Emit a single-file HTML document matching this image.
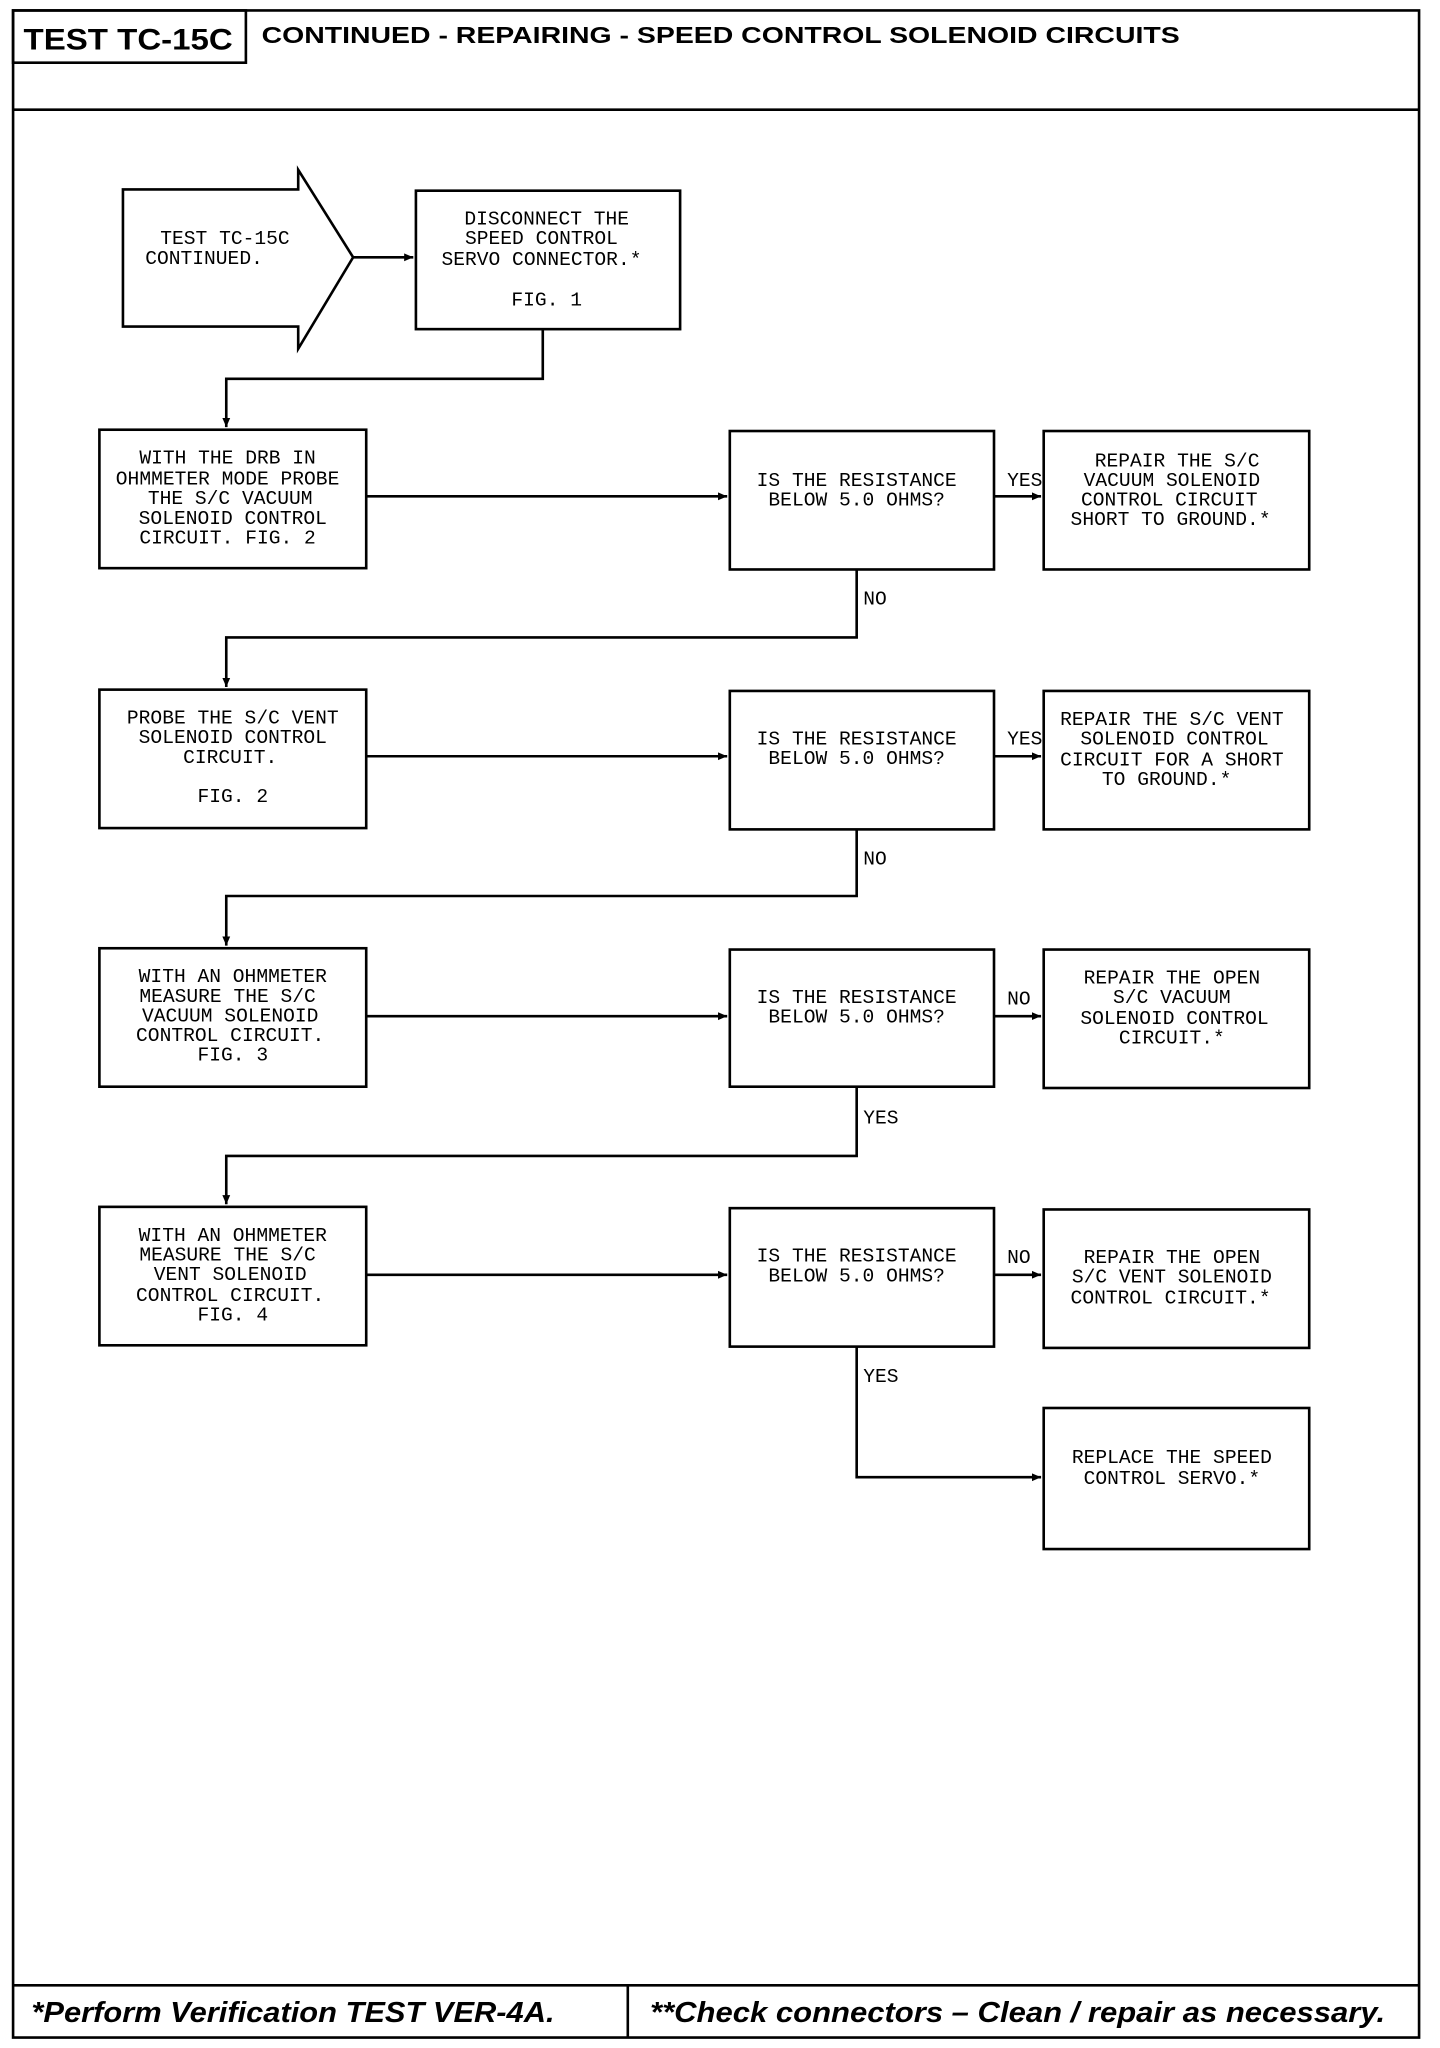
<!DOCTYPE html>
<html><head><meta charset="utf-8"><style>
html,body{margin:0;padding:0;background:#fff;}
svg{display:block;}
.t{font-family:"Liberation Mono",monospace;font-size:15px;fill:#000;text-anchor:middle;}
.l{font-family:"Liberation Mono",monospace;font-size:15px;fill:#000;}
</style></head><body>
<svg width="1440" height="2048" viewBox="0 0 1101 1568" preserveAspectRatio="none" xmlns="http://www.w3.org/2000/svg">
<defs><marker id="a" markerWidth="8" markerHeight="8" refX="7" refY="4" orient="auto" markerUnits="userSpaceOnUse"><path d="M0,1 L7,4 L0,7 z" fill="#000"/></marker></defs>
<g fill="none" stroke="#000" stroke-width="2">
<rect x="10" y="8" width="1075" height="1552"/>
<rect x="10" y="8" width="178" height="40"/>
<line x1="10" y1="84" x2="1085" y2="84"/>
<line x1="10" y1="1520" x2="1085" y2="1520"/>
<line x1="480" y1="1520" x2="480" y2="1560"/>
<path d="M94,145 L228,145 L228,130 L270,197 L228,267 L228,250 L94,250 Z"/>
<rect x="318" y="146" width="202" height="106"/>
<rect x="76" y="329" width="204" height="106"/>
<rect x="558" y="330" width="202" height="106"/>
<rect x="798" y="330" width="203" height="106"/>
<rect x="76" y="528" width="204" height="106"/>
<rect x="558" y="529" width="202" height="106"/>
<rect x="798" y="529" width="203" height="106"/>
<rect x="76" y="726" width="204" height="106"/>
<rect x="558" y="727" width="202" height="105"/>
<rect x="798" y="727" width="203" height="106"/>
<rect x="76" y="924" width="204" height="106"/>
<rect x="558" y="925" width="202" height="106"/>
<rect x="798" y="926" width="203" height="106"/>
<rect x="798" y="1078" width="203" height="108"/>
<line x1="270" y1="197" x2="316" y2="197" marker-end="url(#a)"/>
<path d="M415,252 V290 H173 V327" marker-end="url(#a)"/>
<line x1="280" y1="380" x2="556" y2="380" marker-end="url(#a)"/>
<line x1="760" y1="380" x2="796" y2="380" marker-end="url(#a)"/>
<path d="M655,436 V488 H173 V526" marker-end="url(#a)"/>
<line x1="280" y1="579" x2="556" y2="579" marker-end="url(#a)"/>
<line x1="760" y1="579" x2="796" y2="579" marker-end="url(#a)"/>
<path d="M655,635 V686 H173 V724" marker-end="url(#a)"/>
<line x1="280" y1="778" x2="556" y2="778" marker-end="url(#a)"/>
<line x1="760" y1="778" x2="796" y2="778" marker-end="url(#a)"/>
<path d="M655,832 V885 H173 V922" marker-end="url(#a)"/>
<line x1="280" y1="976" x2="556" y2="976" marker-end="url(#a)"/>
<line x1="760" y1="976" x2="796" y2="976" marker-end="url(#a)"/>
<path d="M655,1031 V1131 H796" marker-end="url(#a)"/>
</g>
<text x="18" y="38" style="font-family:'Liberation Sans',sans-serif;font-weight:bold;font-size:23px" textLength="160" lengthAdjust="spacingAndGlyphs">TEST TC-15C</text>
<text x="200" y="33" style="font-family:'Liberation Sans',sans-serif;font-weight:bold;font-size:18px" textLength="702" lengthAdjust="spacingAndGlyphs">CONTINUED -  REPAIRING - SPEED CONTROL SOLENOID CIRCUITS</text>
<text x="24" y="1548" style="font-family:'Liberation Sans',sans-serif;font-weight:bold;font-style:italic;font-size:22px" textLength="400" lengthAdjust="spacingAndGlyphs">*Perform Verification TEST VER-4A.</text>
<text x="497" y="1548" style="font-family:'Liberation Sans',sans-serif;font-weight:bold;font-style:italic;font-size:22px" textLength="562" lengthAdjust="spacingAndGlyphs">**Check connectors – Clean / repair as necessary.</text>
<g class="t">
<text x="172" y="187">TEST TC-15C</text>
<text x="156" y="202">CONTINUED.</text>
<text x="418" y="172">DISCONNECT THE</text>
<text x="414" y="187">SPEED CONTROL</text>
<text x="414" y="203">SERVO CONNECTOR.*</text>
<text x="418" y="234">FIG. 1</text>
<text x="174" y="355">WITH THE DRB IN</text>
<text x="174" y="371">OHMMETER MODE PROBE</text>
<text x="176" y="386">THE S/C VACUUM</text>
<text x="178" y="401">SOLENOID CONTROL</text>
<text x="174" y="416">CIRCUIT. FIG. 2</text>
<text x="655" y="372">IS THE RESISTANCE</text>
<text x="655" y="387">BELOW 5.0 OHMS?</text>
<text x="900" y="357">REPAIR THE S/C</text>
<text x="896" y="372">VACUUM SOLENOID</text>
<text x="894" y="387">CONTROL CIRCUIT</text>
<text x="895" y="402">SHORT TO GROUND.*</text>
<text x="178" y="554">PROBE THE S/C VENT</text>
<text x="178" y="569">SOLENOID CONTROL</text>
<text x="176" y="584">CIRCUIT.</text>
<text x="178" y="614">FIG. 2</text>
<text x="655" y="570">IS THE RESISTANCE</text>
<text x="655" y="585">BELOW 5.0 OHMS?</text>
<text x="896" y="555">REPAIR THE S/C VENT</text>
<text x="898" y="570">SOLENOID CONTROL</text>
<text x="896" y="586">CIRCUIT FOR A SHORT</text>
<text x="892" y="601">TO GROUND.*</text>
<text x="178" y="752">WITH AN OHMMETER</text>
<text x="174" y="767">MEASURE THE S/C</text>
<text x="176" y="782">VACUUM SOLENOID</text>
<text x="176" y="797">CONTROL CIRCUIT.</text>
<text x="178" y="812">FIG. 3</text>
<text x="655" y="768">IS THE RESISTANCE</text>
<text x="655" y="783">BELOW 5.0 OHMS?</text>
<text x="896" y="753">REPAIR THE OPEN</text>
<text x="896" y="768">S/C VACUUM</text>
<text x="898" y="784">SOLENOID CONTROL</text>
<text x="896" y="799">CIRCUIT.*</text>
<text x="178" y="950">WITH AN OHMMETER</text>
<text x="174" y="965">MEASURE THE S/C</text>
<text x="176" y="980">VENT SOLENOID</text>
<text x="176" y="996">CONTROL CIRCUIT.</text>
<text x="178" y="1011">FIG. 4</text>
<text x="655" y="966">IS THE RESISTANCE</text>
<text x="655" y="981">BELOW 5.0 OHMS?</text>
<text x="896" y="967">REPAIR THE OPEN</text>
<text x="896" y="982">S/C VENT SOLENOID</text>
<text x="895" y="998">CONTROL CIRCUIT.*</text>
<text x="896" y="1120">REPLACE THE SPEED</text>
<text x="896" y="1136">CONTROL SERVO.*</text>
</g>
<g class="l">
<text x="770" y="372">YES</text>
<text x="660" y="463">NO</text>
<text x="770" y="570">YES</text>
<text x="660" y="662">NO</text>
<text x="770" y="769">NO</text>
<text x="660" y="860">YES</text>
<text x="770" y="967">NO</text>
<text x="660" y="1058">YES</text>
</g>
</svg>
</body></html>
